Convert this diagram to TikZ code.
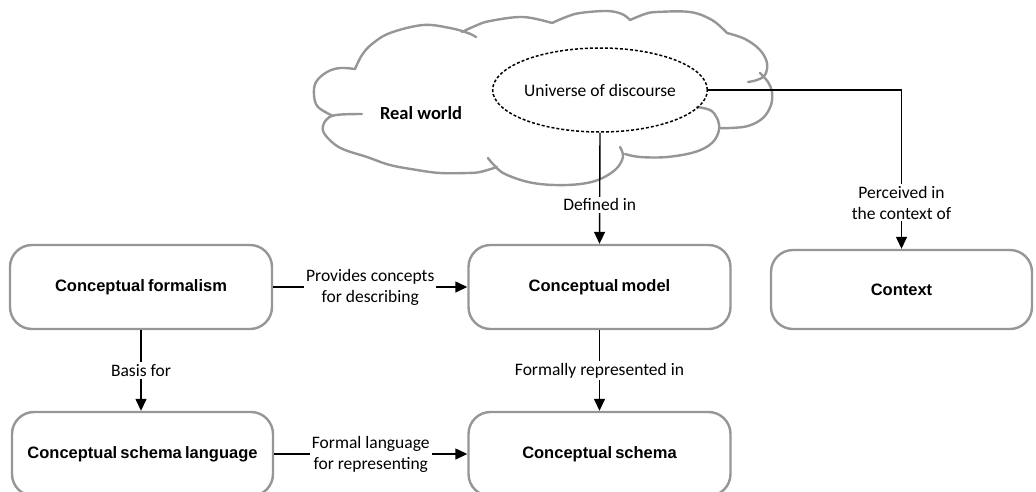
\documentclass[tikz,border=0pt]{standalone}
\usepackage{fontspec}
\usetikzlibrary{arrows.meta,shapes.geometric}
\setmainfont{Carlito}
\newfontfamily\boxface[WordSpace=0.7]{Liberation Sans}
\definecolor{boxgrey}{RGB}{150,150,150}
\newcommand{\boxfont}{\boxface\bfseries\fontsize{16.5}{19}\selectfont}
\newcommand{\lblfont}{\fontsize{17.5}{21}\selectfont}
\newcommand{\worldfont}{\bfseries\fontsize{18.5}{22}\selectfont}
\tikzset{
  box/.style={draw=boxgrey, line width=2.4pt, rounded corners=22pt,
    minimum width=262pt, minimum height=84pt, font=\boxfont, inner sep=0pt},
  conn/.style={draw=black, line width=1.4pt, -{Triangle[length=12pt,width=11pt]}},
  plainconn/.style={draw=black, line width=1.4pt},
  lbl/.style={fill=white, font=\lblfont, align=center, inner sep=2pt},
  lobe/.style={draw=boxgrey, line width=2.4pt, line cap=round, line join=round},
}
\begin{document}
\begin{tikzpicture}[x=1pt, y=-1pt]
\useasboundingbox (0,0) rectangle (1036,491);

% cloud outline, one puff at a time
\draw[lobe] plot[smooth, tension=0.6] coordinates {(333,116) (318,107) (314,95) (316,82) (327,72) (340,68) (355,69)};
\draw[lobe] plot[smooth, tension=0.6] coordinates {(355,69) (362,55) (372,44) (390,33) (423,25) (450,28) (468,33) (476,37)};
\draw[lobe] plot[smooth, tension=0.6] coordinates {(462,32) (475,26) (490,21) (523,17) (552,23)};
\draw[lobe] plot[smooth, tension=0.6] coordinates {(552,23) (566,17) (580,13) (607,11) (622,14) (630,20)};
\draw[lobe] plot[smooth, tension=0.6] coordinates {(630,20) (645,14) (657,12) (690,12) (712,20) (727,33)};
\draw[lobe] plot[smooth, tension=0.6] coordinates {(727,33) (745,39) (760,50) (767,63) (765,75) (757,80) (748,82)};
\draw[lobe] plot[smooth, tension=0.6] coordinates {(760,73) (768,82) (772,92) (771,105) (763,118) (748,126) (730,128) (720,128)};
\draw[lobe] plot[smooth, tension=0.6] coordinates {(697,107) (710,110) (717,118) (719,130) (712,143) (695,152) (667,157) (640,157) (625,154)};
\draw[lobe] plot[smooth, tension=0.6] coordinates {(620,147) (623,157) (615,170) (595,181) (567,185) (533,183) (505,174) (493,164) (488,158)};
\draw[lobe] plot[smooth, tension=0.6] coordinates {(497,167) (480,172) (467,173) (440,173) (417,170) (390,165) (367,157) (345,150) (333,143) (323,131) (326,120) (336,115) (362,114)};

\node[font=\worldfont] (world) at (421,113) {Real world};
\node[draw=black, line width=1.5pt, dash pattern=on 3pt off 2pt, ellipse,
      minimum width=214pt, minimum height=84pt, inner sep=0pt, font=\lblfont]
      (ud) at (600,90) {Universe of discourse};

% boxes
\node[box] (form) at (141,287) {Conceptual formalism};
\node[box] (model) at (599.5,287) {Conceptual model};
\node[box, minimum width=261pt, minimum height=79pt] (ctx) at (901.5,289.5) {Context};
\node[box, minimum width=261pt] (lang) at (142.5,454) {Conceptual schema language};
\node[box] (schema) at (599.5,454) {Conceptual schema};

% connectors
\coordinate (pturn) at (ctx.north |- ud.east);
\draw[conn] (ud.south) -- node[lbl, pos=0.65] {Defined in} (model.north);
\draw[plainconn] (ud.east) -- (pturn);
\draw[conn] (pturn) -- node[lbl, pos=0.71] {Perceived in\\the context of} (ctx.north);
\draw[conn] (form.east) -- node[lbl] {Provides concepts\\for describing} (model.west);
\draw[conn] (form.south) -- node[lbl] {Basis for} (form.south |- lang.north);
\draw[conn] (model.south) -- node[lbl] {Formally represented in} (schema.north);
\draw[conn] (lang.east) -- node[lbl] {Formal language\\for representing} (schema.west);
\end{tikzpicture}
\end{document}
